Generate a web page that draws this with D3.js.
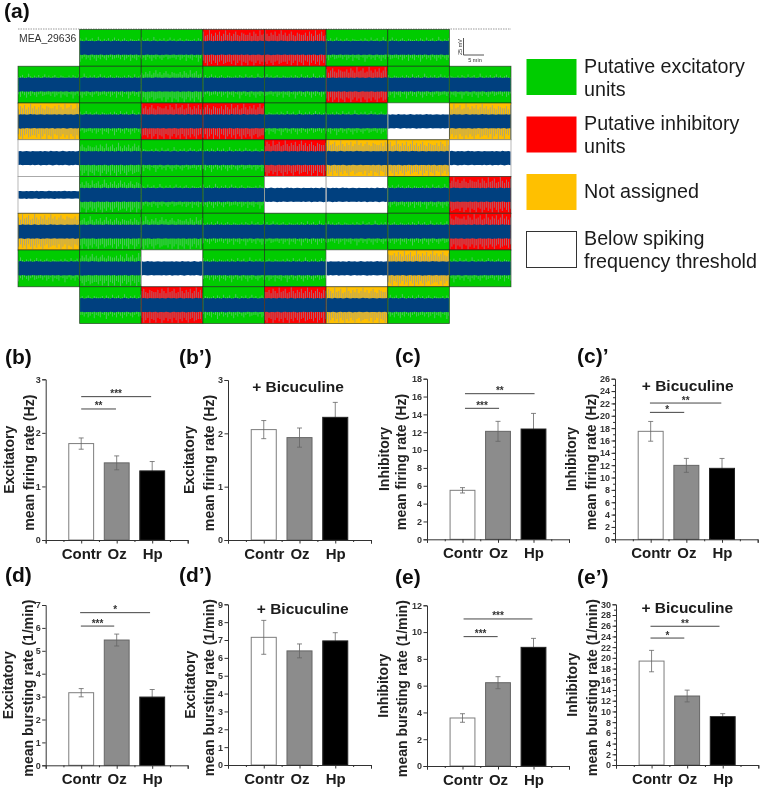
<!DOCTYPE html>
<html>
<head>
<meta charset="utf-8">
<script src="https://d3js.org/d3.v7.min.js"></script>
<style>
  html, body { margin: 0; padding: 0; background: #fff; }
  svg { display: block; font-family: "Liberation Sans", Arial, sans-serif; }
</style>
</head>
<body>
<div id="chart"></div>
<script>
// Electrode map: G excitatory, R inhibitory, Y not assigned, W below threshold, . no electrode
const electrodeRows = [
  '.GGRRGG.',
  'GGGGGRGG',
  'YGRRGGWY',
  'WGGGRYYW',
  'WGGGWWGR',
  'YGGGGGGR',
  'GGWGGWYG',
  '.GRGRYG.'
];
const thinTraces = ['4,0'];
const noisyTraces = ['3,1', '4,1', '5,1', '6,1', '5,2', '1,2'];
// peak height of the trace in mV, read roughly along one channel
const tracePeaks = [12, 14, 11, 15, 13, 11, 16, 12, 13, 15, 11, 12, 17, 13, 11, 14, 12, 15, 11, 13, 16, 12, 14, 11, 13, 15, 12, 11, 14, 13, 12];

const legendLabels = [
  ['Putative excitatory', 'units'],
  ['Putative inhibitory', 'units'],
  ['Not assigned'],
  ['Below spiking', 'frequency threshold']
];

const categories = ['Contr', 'Oz', 'Hp'];

const bValues = [1.80, 1.44, 1.29];
const bErrors = [0.105, 0.13, 0.175];
const bSig = [[1, 2.97, 2.676, '***'], [1, 1.98, 2.446, '**']];

const bpValues = [2.07, 1.92, 2.30];
const bpErrors = [0.17, 0.18, 0.28];

const cValues = [5.49, 12.1, 12.36];
const cErrors = [0.3, 1.12, 1.75];
const cSig = [[1.07, 3.03, 16.32, '**'], [1.07, 2.03, 14.68, '***']];

const cpValues = [17.48, 11.97, 11.49];
const cpErrors = [1.6, 1.13, 1.6];
const cpSig = [[0.98, 2.98, 22.06, '**'], [0.98, 1.94, 20.55, '*']];

const dValues = [3.17, 5.47, 2.98];
const dErrors = [0.18, 0.26, 0.33];
const dSig = [[0.97, 2.94, 6.665, '*'], [0.99, 1.93, 6.08, '***']];

const dpValues = [7.15, 6.39, 6.95];
const dpErrors = [0.95, 0.39, 0.46];

const eValues = [3.585, 6.22, 8.86];
const eErrors = [0.32, 0.45, 0.67];
const eSig = [[1.03, 2.97, 10.98, '***'], [1.03, 1.99, 9.66, '***']];

const epValues = [19.4, 12.88, 9.02];
const epErrors = [2, 1.1, 0.56];
const epSig = [[0.97, 2.91, 25.9, '**'], [0.97, 1.92, 23.7, '*']];

const stateColor = { G: '#00cc00', R: '#ff0000', Y: '#ffc000', W: '#ffffff' };
const traceBlue = '#03407f';

const svg = d3.select('#chart').append('svg').attr('width', 760).attr('height', 790);

// The source image is soft, traces more than the text
const defs = svg.append('defs');
[['soft', 0.6], ['softText', 0.35]].forEach(f => {
  defs.append('filter').attr('id', f[0])
    .attr('x', '-2%').attr('y', '-2%').attr('width', '104%').attr('height', '104%')
    .append('feGaussianBlur').attr('stdDeviation', f[1]);
});
const textLayer = svg.append('g').attr('filter', 'url(#softText)');

function drawRaster() {
  const col = d3.scaleBand().domain(d3.range(8)).range([18, 511]);
  const row = d3.scaleBand().domain(d3.range(8)).range([29.5, 323.5]);
  const mv = d3.scaleLinear().domain([-27, 27]).range([row.bandwidth(), 0]);
  const t = d3.scaleLinear().domain([0, tracePeaks.length - 1]).range([0.5, col.bandwidth() - 0.5]);

  const g = svg.append('g').attr('filter', 'url(#soft)');

  g.append('line')
    .attr('x1', 18).attr('x2', 511).attr('y1', 29).attr('y2', 29)
    .attr('stroke', '#999').attr('stroke-dasharray', '1.5 1');

  electrodeRows.forEach((states, r) => {
    states.split('').forEach((state, c) => {
      if (state === '.') return;
      const cell = g.append('g').attr('transform', `translate(${col(c)},${row(r)})`);
      const key = `${r},${c}`;
      const thin = thinTraces.includes(key);
      const strong = state === 'R' || state === 'Y';
      const blank = state === 'W';
      const gain = noisyTraces.includes(key) ? 1.4 : 1;
      const shift = r * 7 + c * 3;
      const peak = i => tracePeaks[(i + shift) % tracePeaks.length];

      cell.append('rect')
        .attr('width', col.bandwidth()).attr('height', row.bandwidth())
        .attr('fill', stateColor[state]);

      // spikes reaching out of the noise band, below threshold cells have almost none
      if (!blank) {
        const spikes = d3.path();
        tracePeaks.forEach((_, i) => {
          const up = strong ? peak(i) * 1.6 : peak(i) * 0.95 * gain;
          const down = strong ? peak(i + 9) * 1.7 : peak(i + 9) * 1.2 * gain;
          spikes.moveTo(t(i), mv(0));
          spikes.lineTo(t(i), mv(Math.min(up, 26)));
          spikes.moveTo(t(i), mv(0));
          spikes.lineTo(t(i), mv(-Math.min(down, 26)));
        });
        cell.append('path')
          .attr('d', spikes.toString())
          .attr('fill', 'none')
          .attr('stroke', strong ? '#8a96a8' : '#9fc4c4')
          .attr('stroke-width', strong ? 1 : 0.8)
          .attr('stroke-opacity', strong ? 0.65 : 0.6);
      }

      // dense noise band in the middle of the trace
      const scale = thin ? 0.55 : 1;
      const band = d3.area()
        .x((d, i) => t(i))
        .y0((d, i) => mv(-(10 + (peak(i + 5) - 12) * 0.18) * scale))
        .y1((d, i) => mv((10 + (peak(i) - 12) * 0.18) * scale));
      cell.append('path').attr('d', band(tracePeaks)).attr('fill', traceBlue);

      cell.append('rect')
        .attr('width', col.bandwidth()).attr('height', row.bandwidth())
        .attr('fill', 'none')
        .attr('stroke', blank ? '#8a8a8a' : '#1c2a1c')
        .attr('stroke-opacity', 0.75)
        .attr('stroke-width', 0.8);
    });
  });

  // scale bar
  g.append('path')
    .attr('d', 'M463.5 38V55H484')
    .attr('fill', 'none').attr('stroke', '#444').attr('stroke-width', 0.9);
  textLayer.append('text')
    .attr('transform', 'translate(462,47) rotate(-90)')
    .attr('text-anchor', 'middle')
    .attr('font-size', 5.5).attr('fill', '#333').text('25 mV');
  textLayer.append('text')
    .attr('x', 475).attr('y', 61.5)
    .attr('text-anchor', 'middle')
    .attr('font-size', 5.5).attr('fill', '#333').text('5 min');
  textLayer.append('text')
    .attr('x', 19).attr('y', 42)
    .attr('font-size', 10.4).attr('fill', '#333').text('MEA_29636');
}

function drawLegend() {
  const keys = ['G', 'R', 'Y', 'W'];
  const top = d3.scalePoint().domain(keys).range([59, 231.5]);
  keys.forEach((k, i) => {
    svg.append('rect')
      .attr('x', 526.5).attr('y', top(k))
      .attr('width', 50).attr('height', 36)
      .attr('fill', stateColor[k])
      .attr('stroke', k === 'W' ? '#333' : 'none')
      .attr('stroke-width', 1);
    const lines = legendLabels[i];
    lines.forEach((line, j) => {
      textLayer.append('text')
        .attr('x', 584)
        .attr('y', lines.length === 1 ? top(k) + 24 : top(k) + 13.5 + j * 23)
        .attr('font-size', 19.7)
        .attr('fill', '#1a1a1a')
        .text(line);
    });
  });
}

function drawBarPanel(p) {
  const x = d3.scaleLinear().domain([0, 4]).range([p.left, p.right]);
  const y = d3.scaleLinear().domain([0, p.yMax]).range([p.bottom, p.top]);
  const g = textLayer.append('g');
  const axisColor = '#333';
  const barWidth = x(0.7) - x(0);

  categories.forEach((name, i) => {
    const cx = x(i + 1);
    const v = p.values[i];
    const e = p.errors[i];
    const bar = () => g.append('rect')
      .attr('x', cx - barWidth / 2).attr('width', barWidth)
      .attr('y', y(v)).attr('height', y(0) - y(v))
      .attr('fill', ['#fff', '#8c8c8c', '#000'][i])
      .attr('stroke', ['#7d7d7d', '#666', '#222'][i])
      .attr('stroke-width', 1);
    const whisker = () => {
      g.append('line')
        .attr('x1', cx).attr('x2', cx)
        .attr('y1', y(v - e)).attr('y2', y(v + e))
        .attr('stroke', '#666').attr('stroke-width', 0.8);
      [v + e, v - e].forEach(c => g.append('line')
        .attr('x1', cx - 2.5).attr('x2', cx + 2.5)
        .attr('y1', y(c)).attr('y2', y(c))
        .attr('stroke', '#666').attr('stroke-width', 0.8));
    };
    // the black bar hides the lower half of its whisker
    if (i === 2) { whisker(); bar(); } else { bar(); whisker(); }
  });

  // Axes
  const yAxis = d3.axisLeft(y).tickValues(d3.range(0, p.yMax + 0.01, p.yStep)).tickSize(3.5).tickPadding(1.5).tickFormat(d3.format('d'));
  const yG = g.append('g').attr('transform', `translate(${p.left},0)`).call(yAxis);
  if (p.yMinor) {
    g.append('g').attr('transform', `translate(${p.left},0)`)
      .call(d3.axisLeft(y).tickValues(d3.range(0, p.yMax, p.yMinor)).tickSize(2).tickFormat(''))
      .call(a => a.select('.domain').remove())
      .selectAll('line').attr('stroke', axisColor);
  }
  yG.selectAll('text').attr('font-size', 9).attr('font-weight', 'bold').attr('fill', '#333');

  g.append('g').attr('transform', `translate(0,${p.bottom})`)
    .call(d3.axisBottom(x).tickValues(d3.range(0.5, 4, 1)).tickSize(2).tickFormat(''))
    .call(a => a.select('.domain').remove())
    .selectAll('line').attr('stroke', axisColor);
  const xG = g.append('g').attr('transform', `translate(0,${p.bottom})`)
    .call(d3.axisBottom(x).tickValues([0, 1, 2, 3, 4]).tickSize(3.5).tickPadding(5)
      .tickFormat(d => categories[d - 1] || ''));
  xG.selectAll('text').attr('font-size', 15).attr('font-weight', 'bold').attr('fill', '#1a1a1a');
  [yG, xG].forEach(a => {
    a.selectAll('line').attr('stroke', axisColor);
    a.select('.domain').attr('stroke', axisColor).attr('stroke-width', 1);
  });

  // Significance bars
  (p.sig || []).forEach(s => {
    g.append('line')
      .attr('x1', x(s[0])).attr('x2', x(s[1]))
      .attr('y1', y(s[2])).attr('y2', y(s[2]))
      .attr('stroke', '#444').attr('stroke-width', 1);
    g.append('text')
      .attr('x', (x(s[0]) + x(s[1])) / 2).attr('y', y(s[2]) + 0.5)
      .attr('text-anchor', 'middle')
      .attr('font-size', 10).attr('font-weight', 'bold').attr('fill', '#333')
      .text(s[3]);
  });

  if (p.bicuculine) {
    g.append('text')
      .attr('x', p.bicuculine[0]).attr('y', p.bicuculine[1])
      .attr('text-anchor', 'middle')
      .attr('font-size', 15.5).attr('font-weight', 'bold').attr('fill', '#1a1a1a')
      .text('+ Bicuculine');
  }

  // Y title, two rotated lines
  const midY = (p.top + p.bottom) / 2;
  p.title.forEach((line, i) => {
    g.append('text')
      .attr('transform', `translate(${p.titleX[i]},${midY + (i ? 3 : 0)}) rotate(-90)`)
      .attr('text-anchor', 'middle')
      .attr('font-size', 14.1).attr('font-weight', 'bold').attr('fill', '#222')
      .text(line);
  });

  g.append('text')
    .attr('x', p.tag[1]).attr('y', p.tag[2])
    .attr('font-size', 21).attr('font-weight', 'bold').attr('fill', '#111')
    .text(p.tag[0]);
}

drawRaster();
drawLegend();

textLayer.append('text').attr('x', 4).attr('y', 18)
  .attr('font-size', 21).attr('font-weight', 'bold').attr('fill', '#111').text('(a)');

const panels = [
  { tag: ['(b)', 5, 364], left: 45.7, right: 187.7, top: 379.3, bottom: 540, yMax: 3, yStep: 1,
    values: bValues, errors: bErrors, sig: bSig,
    title: ['Excitatory', 'mean firing rate (Hz)'], titleX: [14, 34] },
  { tag: ['(b’)', 179, 364], left: 228, right: 371, top: 380, bottom: 540, yMax: 3, yStep: 1,
    values: bpValues, errors: bpErrors, bicuculine: [298, 392],
    title: ['Excitatory', 'mean firing rate (Hz)'], titleX: [194, 214] },
  { tag: ['(c)', 395, 363], left: 427, right: 569, top: 378.7, bottom: 539.3, yMax: 18, yStep: 2,
    values: cValues, errors: cErrors, sig: cSig,
    title: ['Inhibitory', 'mean firing rate (Hz)'], titleX: [389, 406] },
  { tag: ['(c)’', 577, 363], left: 615, right: 757.7, top: 378.7, bottom: 539.3, yMax: 26, yStep: 2, yMinor: 1,
    values: cpValues, errors: cpErrors, sig: cpSig, bicuculine: [687.7, 390.7],
    title: ['Inhibitory', 'mean firing rate (Hz)'], titleX: [576, 596] },
  { tag: ['(d)', 5, 582], left: 45.7, right: 187.7, top: 605, bottom: 765.3, yMax: 7, yStep: 1,
    values: dValues, errors: dErrors, sig: dSig,
    title: ['Excitatory', 'mean bursting rate (1/min)'], titleX: [13, 33] },
  { tag: ['(d’)', 179, 582], left: 228, right: 371, top: 604.3, bottom: 765, yMax: 9, yStep: 1,
    values: dpValues, errors: dpErrors, bicuculine: [302.7, 614.3],
    title: ['Excitatory', 'mean bursting rate (1/min)'], titleX: [195, 214] },
  { tag: ['(e)', 395, 584], left: 427, right: 569, top: 605.3, bottom: 766, yMax: 12, yStep: 2,
    values: eValues, errors: eErrors, sig: eSig,
    title: ['Inhibitory', 'mean bursting rate (1/min)'], titleX: [388, 407] },
  { tag: ['(e’)', 577, 584], left: 616, right: 758.3, top: 604.3, bottom: 765, yMax: 30, yStep: 2, yMinor: 1,
    values: epValues, errors: epErrors, sig: epSig, bicuculine: [687.3, 613.3],
    title: ['Inhibitory', 'mean bursting rate (1/min)'], titleX: [577, 597] }
];

panels.forEach(drawBarPanel);
</script>
</body>
</html>
